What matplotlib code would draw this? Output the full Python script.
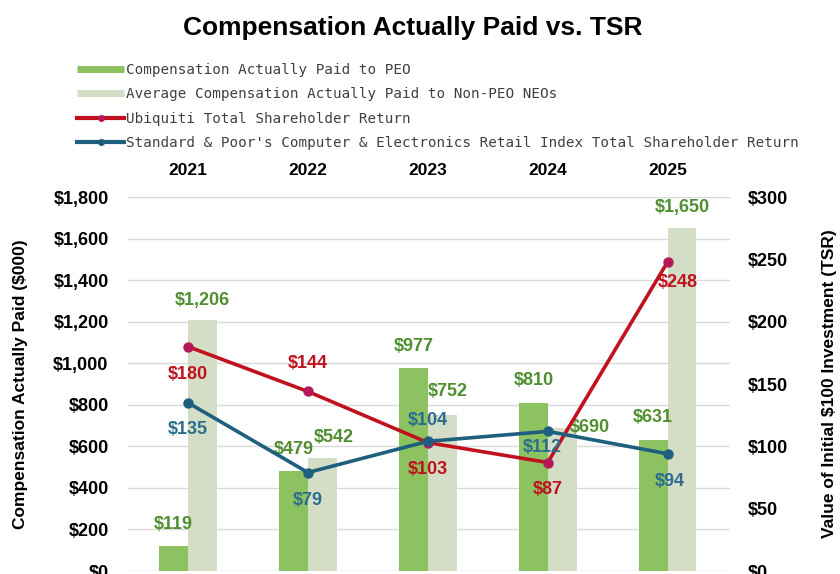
import matplotlib.pyplot as plt
from matplotlib.lines import Line2D

years = ['2021', '2022', '2023', '2024', '2025']
cap_peo = [119, 479, 977, 810, 631]
cap_neo = [1206, 542, 752, 690, 1650]
tsr_ubnt = [180, 144, 103, 87, 248]
tsr_index = [135, 79, 104, 112, 94]

left_ticks = list(range(0, 2000, 200))
right_ticks = list(range(0, 350, 50))

# label offsets in pixels (dx, dy) from the mark
peo_off = [(0, 22)] * 5
neo_off = [(0, 20), (11, 21), (6, 23), (28, 0), (0, 21)]
ubnt_off = [(0, -28), (0, 28), (0, -27), (0, -27), (10, -21)]
idx_off = [(0, -27), (0, -28), (0, 21), (-5, -16), (2, -28)]

C_PEO = '#8DC261'
C_NEO = '#D4DDC5'
C_RED = '#C0121E'
C_RED_MK = '#B5195A'
C_BLUE = '#1F5F7E'
T_GREEN = '#4F8F2F'
T_BLUE = '#2B6D8F'

plt.rcParams['font.family'] = ['Liberation Sans', 'DejaVu Sans']

fig = plt.figure(figsize=(8.4, 5.74), dpi=100)
ax = fig.add_axes([128 / 840, 1 - 571 / 574, 602 / 840, 374 / 574])
x = list(range(len(years)))
w = 0.24

ax.bar([i - w / 2 for i in x], cap_peo, w, color=C_PEO, zorder=2)
ax.bar([i + w / 2 for i in x], cap_neo, w, color=C_NEO, zorder=2)
ax.set_xlim(-0.5, 4.52)
ax.set_ylim(0, 1800)
ax.set_yticks(left_ticks)
ax.set_yticklabels([f'${v:,}' for v in left_ticks], fontsize=13, fontweight='bold')
ax.yaxis.grid(True, color='#D9D9D9', lw=1)
ax.set_axisbelow(True)
ax.tick_params(axis='y', length=0, pad=14)
ax.xaxis.tick_top()
ax.set_xticks(x)
ax.set_xticklabels(years, fontsize=12.5, fontweight='bold')
ax.tick_params(axis='x', length=0, pad=14)
for s in ax.spines.values():
    s.set_visible(False)
ax.set_ylabel('Compensation Actually Paid ($000)', fontsize=12.5,
              fontweight='bold', labelpad=18)

ax2 = ax.twinx()
ax2.set_ylim(0, 300)
ax2.set_yticks(right_ticks)
ax2.set_yticklabels([f'${v}' for v in right_ticks], fontsize=13, fontweight='bold')
ax2.tick_params(axis='y', length=0, pad=13)
for s in ax2.spines.values():
    s.set_visible(False)
ax2.set_ylabel('Value of Initial $100 Investment (TSR)', fontsize=12.5,
               fontweight='bold', labelpad=24)

ax2.plot(x, tsr_ubnt, color=C_RED, lw=2.6, marker='o', ms=6.5,
         mfc=C_RED_MK, mec=C_RED_MK, zorder=3)
ax2.plot(x, tsr_index, color=C_BLUE, lw=2.6, marker='o', ms=6.5,
         mfc=C_BLUE, mec=C_BLUE, zorder=3)

px = 0.72  # pixels -> points at 100 dpi
lab = dict(textcoords='offset points', ha='center', va='center',
           fontsize=13, fontweight='bold', zorder=5)
for i in x:
    ax.annotate(f'${cap_peo[i]:,}', (i - w / 2, cap_peo[i]),
                xytext=(peo_off[i][0] * px, peo_off[i][1] * px), color=T_GREEN, **lab)
    ax.annotate(f'${cap_neo[i]:,}', (i + w / 2, cap_neo[i]),
                xytext=(neo_off[i][0] * px, neo_off[i][1] * px), color=T_GREEN, **lab)
    ax2.annotate(f'${tsr_ubnt[i]}', (i, tsr_ubnt[i]),
                 xytext=(ubnt_off[i][0] * px, ubnt_off[i][1] * px), color=C_RED, **lab)
    ax2.annotate(f'${tsr_index[i]}', (i, tsr_index[i]),
                 xytext=(idx_off[i][0] * px, idx_off[i][1] * px), color=T_BLUE, **lab)

fig.text(413 / 840, 1 - 28 / 574, 'Compensation Actually Paid vs. TSR',
         ha='center', va='center', fontsize=19, fontweight='bold')

handles = [
    Line2D([], [], color=C_PEO, lw=5, solid_capstyle='butt'),
    Line2D([], [], color=C_NEO, lw=5, solid_capstyle='butt'),
    Line2D([], [], color=C_RED, lw=3, marker='o', ms=4, mfc=C_RED_MK, mec=C_RED_MK),
    Line2D([], [], color=C_BLUE, lw=3, marker='o', ms=4, mfc=C_BLUE, mec=C_BLUE),
]
names = [
    'Compensation Actually Paid to PEO',
    'Average Compensation Actually Paid to Non-PEO NEOs',
    'Ubiquiti Total Shareholder Return',
    "Standard & Poor's Computer & Electronics Retail Index Total Shareholder Return",
]
fig.legend(handles, names, loc='upper left', bbox_to_anchor=(77 / 840, 1 - 63 / 574),
           frameon=False, prop={'family': 'DejaVu Sans Mono', 'size': 10.3},
           labelcolor='#404040',
           handlelength=3.3, handletextpad=0.15, labelspacing=0.72,
           borderaxespad=0, borderpad=0)

fig.savefig('out.png', dpi=100)
